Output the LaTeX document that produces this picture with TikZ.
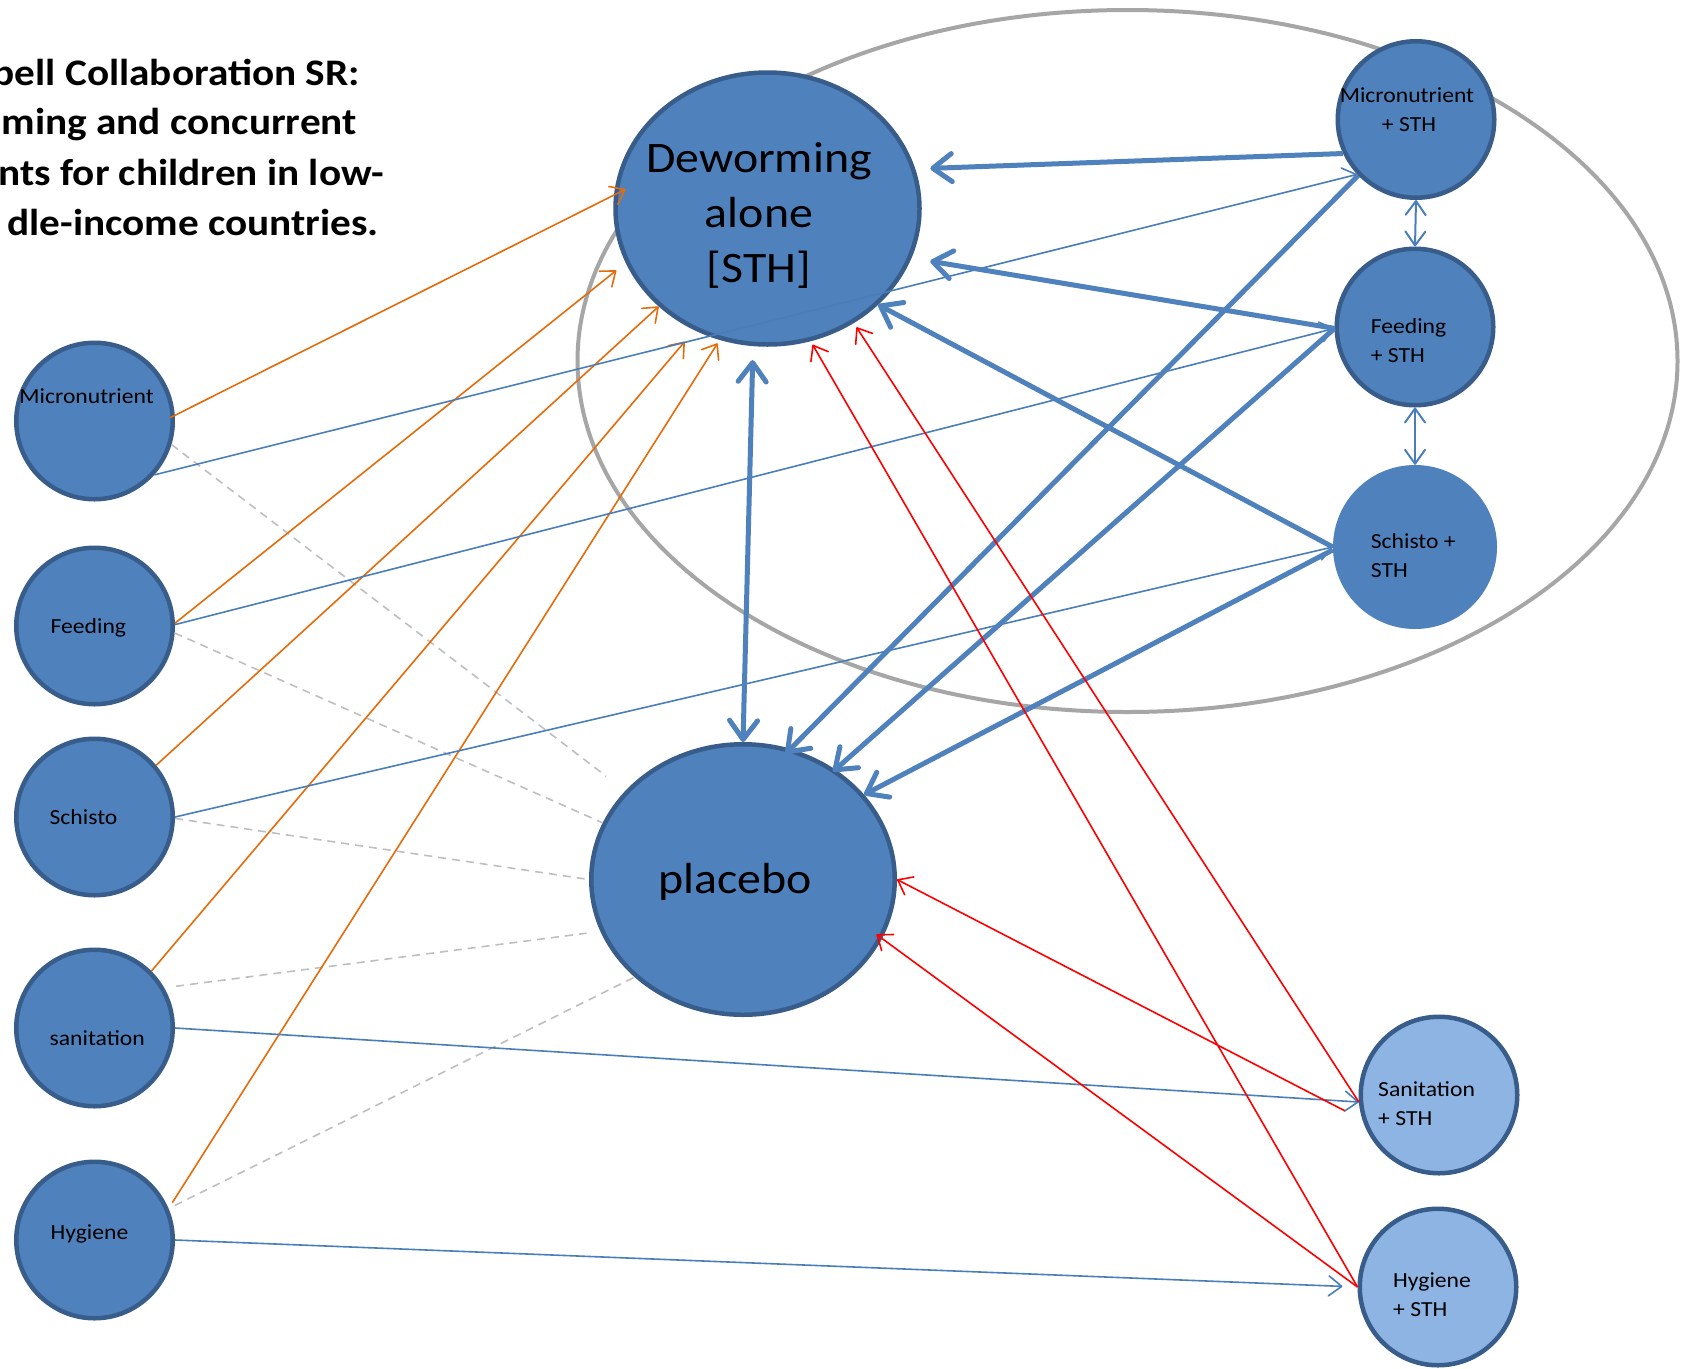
\documentclass[tikz,border=0pt]{standalone}
\usepackage{fontspec}
\setmainfont{Carlito}[FakeStretch=1.1]
\usetikzlibrary{shapes.geometric,arrows.meta}
\definecolor{nodefill}{HTML}{4F81BD}
\definecolor{nodeborder}{HTML}{385D8A}
\definecolor{lightfill}{HTML}{8EB4E3}
\definecolor{linkblue}{HTML}{4A7EBB}
\definecolor{linkorange}{HTML}{E46C0A}
\definecolor{linkred}{HTML}{FF0000}
\definecolor{dashgrey}{HTML}{BFBFBF}
\definecolor{ovalgrey}{HTML}{A6A6A6}
\begin{document}
\begin{tikzpicture}[x=1pt,y=-1pt,
  bubble/.style={circle, draw=nodeborder, line width=4.5pt, fill=nodefill, minimum size=156.5pt, inner sep=0pt},
  lightbubble/.style={bubble, fill=lightfill},
  plainbubble/.style={circle, fill=nodefill, minimum size=164pt, inner sep=0pt},
  bigoval/.style={ellipse, draw=nodeborder, line width=4.5pt, fill=nodefill, inner sep=0pt},
  lab/.style={font=\fontsize{21.5}{29}\selectfont, inner sep=0pt},
  bigtext/.style={font=\fontsize{43.5}{55}\selectfont, inner sep=0pt},
  titletext/.style={font=\fontsize{37.5}{50}\selectfont\bfseries, inner sep=0pt},
  thinhead/.style={-{Straight Barb[length=13pt,width=20pt,round]}},
  orangelink/.style={draw=linkorange, line width=1.6pt, thinhead},
  bluelink/.style={draw=linkblue, line width=1.6pt, thinhead},
  redlink/.style={draw=linkred, line width=1.6pt, thinhead},
  dashlink/.style={draw=dashgrey, line width=1.6pt, dash pattern=on 8pt off 6pt},
  thicklink/.style={draw=nodefill, line width=5pt, -{Straight Barb[length=19pt,width=28pt,round]}},
  thickboth/.style={draw=nodefill, line width=5pt, {Straight Barb[length=19pt,width=28pt,round]}-{Straight Barb[length=19pt,width=28pt,round]}},
  medboth/.style={draw=linkblue, line width=2pt, {Straight Barb[length=14pt,width=20pt,round]}-{Straight Barb[length=14pt,width=20pt,round]}}
]
\useasboundingbox (0,0) rectangle (1683,1368);
\clip (0,0) rectangle (1683,1368);
\fill[white] (0,0) rectangle (1683,1368);

% large grey grouping oval
\draw[ovalgrey, line width=4pt] (1127.5,361) ellipse [x radius=550pt, y radius=351pt];

% main nodes
\node[bigoval, minimum width=304pt, minimum height=272pt] (D) at (767.5,208.5) {};
\node[bigoval, minimum width=303.5pt, minimum height=270.5pt] (P) at (743,879.5) {};

\node[bubble] (L1) at (94.5,421) {};
\node[bubble] (L2) at (94.5,626) {};
\node[bubble] (L3) at (94.5,817) {};
\node[bubble] (L4) at (94.5,1028) {};
\node[bubble] (L5) at (94.5,1240) {};

\node[bubble] (R1) at (1416,119.5) {};
\node[bubble] (R2) at (1415,327) {};
\node[plainbubble] (R3) at (1415,547) {};
\node[lightbubble] (R4) at (1439,1095) {};
\node[lightbubble] (R5) at (1438,1287) {};

% grey dashed links to placebo
\draw[dashlink, shorten >=24pt] (L1.343) -- (P.143);
\draw[dashlink] (L2.355) -- (P.158);
\draw[dashlink] (L3.359) -- (P.180);
\draw[dashlink, shorten <=12pt, shorten >=14pt] (L4.30) -- (P.200);
\draw[dashlink, shorten <=7pt] (L5.23) -- (P.222);

% orange links to deworming alone
\draw[orangelink, shorten <=-5pt, shorten >=-13pt] (L1.4) -- (D.175);
\draw[orangelink, shorten >=12pt] (L2.2) -- (D.201);
\draw[orangelink] (L3.40) -- (D.222);
\draw[orangelink, shorten >=15pt] (L4.45) -- (D.239);
\draw[orangelink, shorten <=7pt, shorten >=4pt] (L5.23) -- (D.250);

% thin blue links left -> right
\draw[bluelink] (L1.318) -- (R1.223);
\draw[bluelink] (L2.1) -- (R2.181);
\draw[bluelink] (L3.0) -- (R3.180);
\draw[bluelink] (L4.0) -- (R4.185);
\draw[bluelink, shorten >=15pt] (L5.0) -- (R5.180);

% thick links
\draw[thicklink, shorten >=15pt] (R1.205) -- (D.15);
\draw[thicklink, shorten >=19pt] (R2.181) -- (D.341);
\draw[thicklink] (R3.180) -- (D.319);
\draw[thickboth, shorten <=14pt] (D.264) -- (P.90);
\draw[thicklink, shorten >=-7pt] (R1.224) -- (P.70);
\draw[thicklink, shorten >=-3pt] (R2.181) -- (P.50);
\draw[thicklink] (R3.182) -- (P.35);

% medium links between combined nodes
\draw[medboth] (R1.270) -- (R2.90);
\draw[medboth] (R2.270) -- (R3.90);

% red links
\draw[redlink, shorten >=5pt] (R4.185) -- (D.307);
\draw[redlink, shorten <=20pt] (R4.198) -- (P.0);
\draw[redlink, shorten >=4pt] (R5.180) -- (D.288);
\draw[redlink, shorten >=-7pt] (R5.180) -- (P.337);

% texts
\node[bigtext, anchor=base] (Dt1) at (759,172.5) {Deworming};
\node[bigtext, anchor=base] (Dt2) at (759,227) {alone};
\node[bigtext, anchor=base] (Dt3) at (759,282) {[STH]};
\node[bigtext, anchor=base] (Pt) at (735,893) {placebo};

\node[lab, anchor=base west] (L1t) at (19.3,403) {Micronutrient};
\node[lab, anchor=base west] (L2t) at (50.4,633) {Feeding};
\node[lab, anchor=base west] (L3t) at (49.4,824) {Schisto};
\node[lab, anchor=base west] (L4t) at (49.4,1045) {sanitation};
\node[lab, anchor=base west] (L5t) at (50.4,1239) {Hygiene};

\node[lab, anchor=base] (R1ta) at (1407,102) {Micronutrient};
\node[lab, anchor=base] (R1tb) at (1409,131) {+ STH};
\node[lab, anchor=base west] (R2ta) at (1370.6,333) {Feeding};
\node[lab, anchor=base west] (R2tb) at (1370.6,362) {+ STH};
\node[lab, anchor=base west] (R3ta) at (1370.6,548) {Schisto +};
\node[lab, anchor=base west] (R3tb) at (1370.6,577) {STH};
\node[lab, anchor=base west] (R4ta) at (1378,1096) {Sanitation};
\node[lab, anchor=base west] (R4tb) at (1378,1125) {+ STH};
\node[lab, anchor=base west] (R5ta) at (1393,1287) {Hygiene};
\node[lab, anchor=base west] (R5tb) at (1393,1316) {+ STH};

% title (clipped at the left edge)
\node[titletext, anchor=base east] (T1) at (360,85) {bell Collaboration SR:};
\node[titletext, anchor=base east] (T2) at (357,134.5) {ming and concurrent};
\node[titletext, anchor=base east] (T3) at (384,185) {nts for children in low-};
\node[titletext, anchor=base east] (T4) at (379,235) {dle-income countries.};
\end{tikzpicture}
\end{document}
